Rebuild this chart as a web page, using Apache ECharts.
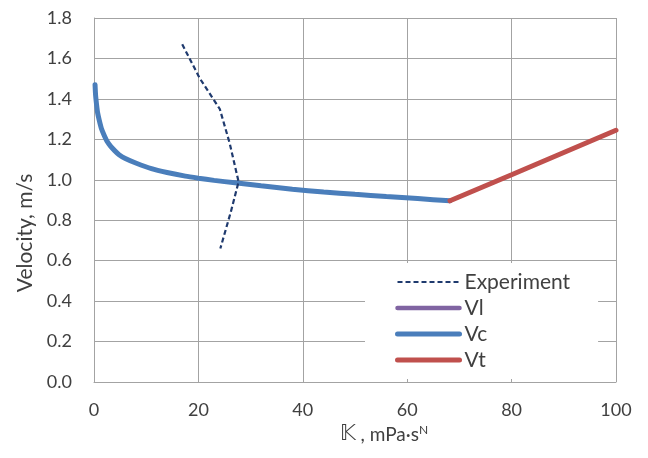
<!DOCTYPE html>
<html>
<head>
<meta charset="utf-8">
<script src="https://cdn.jsdelivr.net/npm/echarts@6/dist/echarts.min.js"></script>
<style>
  html, body { margin: 0; padding: 0; background: #fff; }
  #chart { width: 648px; height: 458px; }
</style>
</head>
<body>
<div id="chart"></div>
<script>
// Consistency index K (mPa·s^N) vs velocity (m/s)
const experimentK = [16.9, 20.3, 24.1, 26.0, 27.7, 26.2, 24.2];
const experimentV = [1.67, 1.50, 1.35, 1.18, 0.99, 0.84, 0.66];

const vlK = [];
const vlV = [];

const vcK = [0.2, 0.3, 0.5, 0.7, 1.0, 1.4, 1.9, 2.5, 3.2, 4, 4.8, 6, 8, 11, 14, 17.5, 20, 23, 27, 32, 38, 44, 50, 56, 62, 68.2];
const vcV = [1.47, 1.42, 1.37, 1.33, 1.295, 1.255, 1.223, 1.19, 1.165, 1.143, 1.124, 1.105, 1.083, 1.055, 1.036, 1.018, 1.008, 0.997, 0.985, 0.970, 0.953, 0.940, 0.928, 0.917, 0.907, 0.896];

const vtK = [68.2, 80, 100];
const vtV = [0.896, 1.025, 1.245];

const xTicks = [0, 20, 40, 60, 80, 100];
const yTicks = [0, 0.2, 0.4, 0.6, 0.8, 1.0, 1.2, 1.4, 1.6, 1.8];

const pairs = (xs, ys) => xs.map((x, i) => [x, ys[i]]);

const textColor = '#404040';
const gridColor = '#a3a3a3';
const font = 'Lato, "Open Sans", sans-serif';

const chart = echarts.init(document.getElementById('chart'), null, { renderer: 'canvas' });

chart.setOption({
  animation: false,
  backgroundColor: '#ffffff',
  grid: { left: 94, right: 32, top: 18, bottom: 76, containLabel: false },
  xAxis: {
    type: 'value',
    min: xTicks[0],
    max: xTicks[xTicks.length - 1],
    interval: 20,
    name: '{k|𝕂}{t| , mPa·s}{sup|N}',
    nameLocation: 'middle',
    nameGap: 42,
    nameTextStyle: {
      color: textColor, fontFamily: font, fontSize: 19,
      padding: [0, 0, 0, 58],
      rich: {
        k: { fontSize: 21, color: textColor, fontFamily: '"DejaVu Sans", sans-serif' },
        t: { fontSize: 19, color: textColor, fontFamily: font },
        sup: { fontSize: 12, color: textColor, fontFamily: font, verticalAlign: 'top' }
      }
    },
    axisLine: { show: true, lineStyle: { color: gridColor, width: 1 } },
    axisTick: { show: false },
    axisLabel: { color: textColor, fontFamily: font, fontSize: 18, margin: 19 },
    splitLine: { show: true, lineStyle: { color: gridColor, width: 1 } }
  },
  yAxis: {
    type: 'value',
    min: yTicks[0],
    max: yTicks[yTicks.length - 1],
    interval: 0.2,
    axisLine: { show: true, lineStyle: { color: gridColor, width: 1 } },
    axisTick: { show: false },
    axisLabel: {
      color: textColor, fontFamily: font, fontSize: 18, margin: 22,
      formatter: v => v.toFixed(1)
    },
    splitLine: { show: true, lineStyle: { color: gridColor, width: 1 } }
  },
  graphic: [{
    type: 'text',
    x: 25,
    y: 233,
    rotation: Math.PI / 2,
    style: {
      text: 'Velocity, m/s',
      fill: textColor,
      font: '21px ' + font,
      align: 'center',
      verticalAlign: 'middle'
    }
  }],
  legend: {
    orient: 'vertical',
    left: 365,
    top: 263,
    padding: [8, 28, 8, 30],
    itemWidth: 62,
    itemHeight: 18,
    itemGap: 4,
    itemStyle: { opacity: 0 },
    lineStyle: { width: 'inherit' },
    backgroundColor: '#ffffff',
    textStyle: { color: textColor, fontFamily: font, fontSize: 21, lineHeight: 22 },
    data: ['Experiment', 'Vl', 'Vc', 'Vt']
  },
  series: [
    {
      name: 'Experiment', type: 'line', symbol: 'none',
      data: pairs(experimentK, experimentV),
      lineStyle: { color: '#1f3a6e', width: 2.2, type: [5, 3] },
      itemStyle: { color: '#1f3a6e' },
      z: 4
    },
    {
      name: 'Vl', type: 'line', symbol: 'none',
      data: pairs(vlK, vlV),
      lineStyle: { color: '#8064a2', width: 4.5, cap: 'round' },
      itemStyle: { color: '#8064a2' }
    },
    {
      name: 'Vc', type: 'line', symbol: 'none', smooth: 0.2,
      data: pairs(vcK, vcV),
      lineStyle: { color: '#4a7ebb', width: 5, cap: 'round' },
      itemStyle: { color: '#4a7ebb' },
      z: 3
    },
    {
      name: 'Vt', type: 'line', symbol: 'none',
      data: pairs(vtK, vtV),
      lineStyle: { color: '#c0504d', width: 5, cap: 'round' },
      itemStyle: { color: '#c0504d' },
      z: 3
    }
  ]
});
</script>
</body>
</html>
